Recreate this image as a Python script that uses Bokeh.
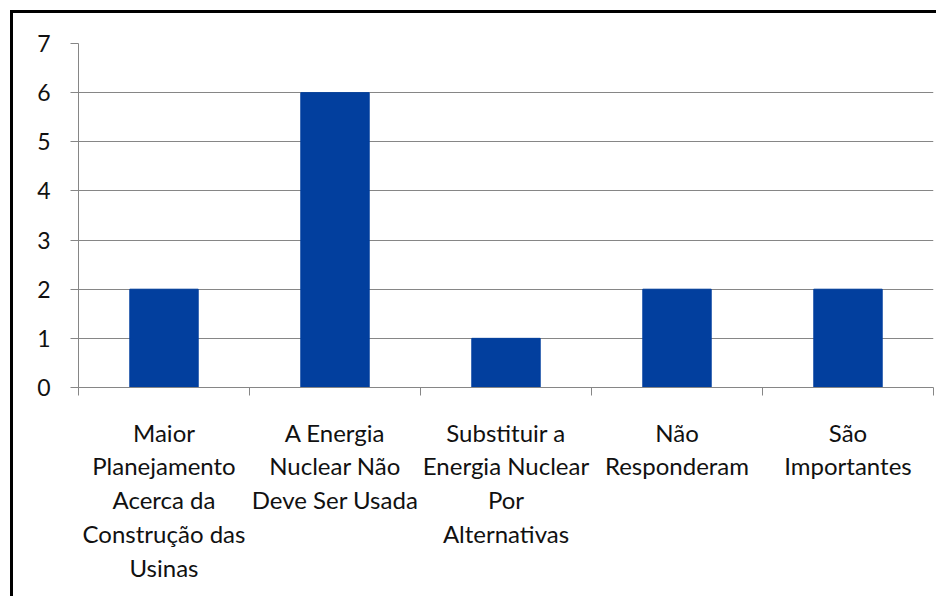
from bokeh.plotting import figure
from bokeh.models import FixedTicker, Range1d
from bokeh.embed import file_html
from bokeh.resources import INLINE

categories = [
    "Maior\nPlanejamento\nAcerca da\nConstrução das\nUsinas",
    "A Energia\nNuclear Não\nDeve Ser Usada",
    "Substituir a\nEnergia Nuclear\nPor\nAlternativas",
    "Não\nResponderam",
    "São\nImportantes",
]
values = [2, 6, 1, 2, 2]
y_ticks = [0, 1, 2, 3, 4, 5, 6, 7]

positions = [i + 0.5 for i in range(len(categories))]

p = figure(width=926, height=586, output_backend="svg", toolbar_location=None,
           x_range=Range1d(0, len(categories)), y_range=Range1d(0, 7),
           min_border_left=65, min_border_right=6, min_border_top=30,
           min_border_bottom=212)
p.styles = {"border-left": "3px solid #000", "border-top": "3px solid #000",
            "margin-left": "10px", "margin-top": "10px"}
p.outline_line_color = None

p.vbar(x=positions, top=values, width=0.4, bottom=0, color="#023F9E")

gray = "#868686"
font = "Lato"

xa = p.xaxis[0]
xa.ticker = FixedTicker(ticks=positions, minor_ticks=list(range(len(categories) + 1)))
xa.major_label_overrides = {pos: lab for pos, lab in zip(positions, categories)}
xa.major_tick_out = 0
xa.major_tick_in = 0
xa.minor_tick_out = 8
xa.minor_tick_in = 0
xa.minor_tick_line_color = gray
xa.axis_line_color = gray
xa.major_label_text_font = font
xa.major_label_text_font_size = "24px"
xa.major_label_text_color = "#111111"
xa.major_label_standoff = 22
xa.major_label_text_line_height = 1.17

ya = p.yaxis[0]
ya.ticker = FixedTicker(ticks=y_ticks)
ya.major_tick_out = 8
ya.major_tick_in = 0
ya.minor_tick_line_color = None
ya.major_tick_line_color = gray
ya.axis_line_color = gray
ya.major_label_text_font = font
ya.major_label_text_font_size = "23px"
ya.major_label_text_color = "#111111"
ya.major_label_standoff = 20

p.xgrid.grid_line_color = None
p.ygrid.grid_line_color = gray
p.ygrid.ticker = FixedTicker(ticks=y_ticks)

open("out.html", "w").write(file_html(p, INLINE))
